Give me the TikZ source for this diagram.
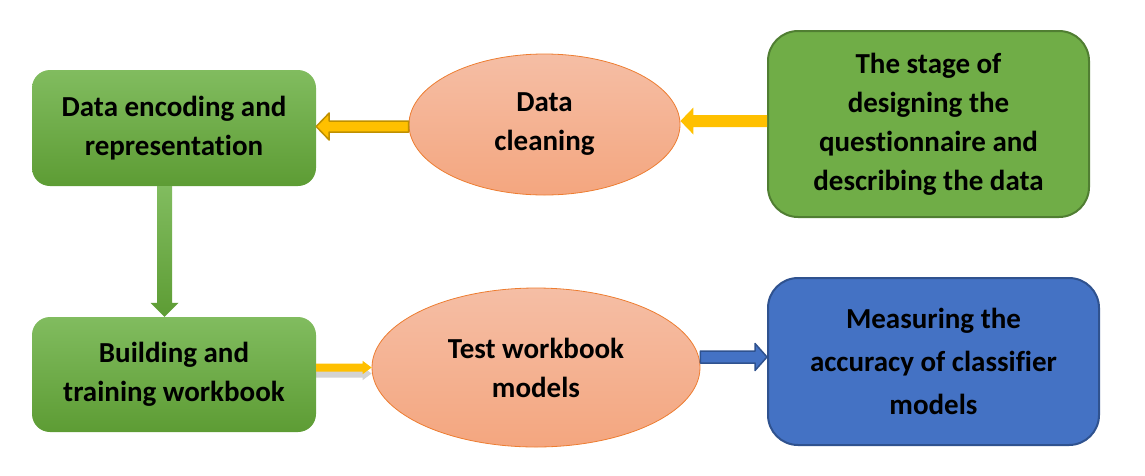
\documentclass[tikz,border=0pt]{standalone}
\usepackage{fontspec}
\setmainfont[Ligatures=NoCommon]{Carlito}
\usetikzlibrary{shapes.geometric,calc,shadows}
\definecolor{grnTop}{HTML}{81BC5F}
\definecolor{grnBot}{HTML}{5D9C34}
\definecolor{grnFill}{HTML}{70AD47}
\definecolor{grnLine}{HTML}{507E32}
\definecolor{salTop}{HTML}{F5BEA5}
\definecolor{salBot}{HTML}{F4A67F}
\definecolor{salLine}{HTML}{ED7D31}
\definecolor{bluFill}{HTML}{4472C4}
\definecolor{bluLine}{HTML}{2F528F}
\definecolor{gold}{HTML}{FFC000}
\definecolor{goldLine}{HTML}{BF9000}
% block arrow: style, tail, tip, half shaft, half head, head length
\newcommand{\blockarrow}[6]{%
  \path[#1] let \p1=(#2), \p2=(#3), \n1={veclen(\x2-\x1,\y2-\y1)},
    \n2={(\x2-\x1)/\n1}, \n3={(\y2-\y1)/\n1},
    \p3=({\x2-(\n2)*#6},{\y2-(\n3)*#6}) in
    ({\x1-(\n3)*#4},{\y1+(\n2)*#4}) -- ({\x3-(\n3)*#4},{\y3+(\n2)*#4})
    -- ({\x3-(\n3)*#5},{\y3+(\n2)*#5}) -- (\p2) -- ({\x3+(\n3)*#5},{\y3-(\n2)*#5})
    -- ({\x3+(\n3)*#4},{\y3-(\n2)*#4}) -- ({\x1+(\n3)*#4},{\y1-(\n2)*#4}) -- cycle;}
\tikzset{
  label/.style={font={\bfseries\fontsize{29}{39}\selectfont}, align=center, inner sep=0pt},
  greenbox/.style={label, rounded corners=18pt, minimum width=284pt, minimum height=116pt,
    top color=grnTop, bottom color=grnBot},
  stagebox/.style={label, rounded corners=30pt, draw=grnLine, line width=2pt, fill=grnFill},
  bluebox/.style={label, rounded corners=30pt, draw=bluLine, line width=2pt, fill=bluFill,
    font={\bfseries\fontsize{29}{43}\selectfont}},
  oval/.style={label, ellipse, top color=salTop, bottom color=salBot, draw=salLine, line width=0.8pt},
  yellowarrow/.style={fill=gold},
  goldarrow/.style={fill=gold, draw=goldLine, line width=1.5pt},
  greenarrow/.style={top color=grnTop, bottom color=grnBot},
  shadowarrow/.style={fill=gold, drop shadow={shadow xshift=0pt, shadow yshift=-6pt, opacity=0.35}},
  bluearrow/.style={fill=bluFill, draw=bluLine, line width=1.5pt}
}

\begin{document}
\begin{tikzpicture}[x=1pt,y=-1pt,line join=round]
    \useasboundingbox (0,0) rectangle (1145,475);

    % Stages
    \draw(174,128) node[greenbox] (enc) {Data encoding and\\representation};
    \draw(544.5,124.5) node[oval, minimum width=271pt, minimum height=141pt] (clean) {Data\\cleaning};
    \draw(928.5,124) node[stagebox, minimum width=321pt, minimum height=186pt] (stage) {The stage of\\designing the\\questionnaire and\\describing the data};
    \draw(174,374.5) node[greenbox, minimum height=115pt] (build) {Building and\\training workbook};
    \draw(536,367.5) node[oval, minimum width=328pt, minimum height=159pt] (test) {Test workbook\\models};
    \draw(933.5,361.5) node[bluebox, minimum width=331pt, minimum height=167pt] (meas) {Measuring the\\accuracy of classifier\\models};

    % Tails
    \coordinate (t1) at ([yshift=3pt]stage.west);
    \coordinate (t2) at ([yshift=-2pt]clean.west);
    \coordinate (t3) at ([xshift=-9.5pt]enc.south);
    \coordinate (t4) at (build.east |- test.west);
    \coordinate (t5) at ([yshift=10.5pt]test.east);

    % Arrows
    \foreach \sty/\src/\dst/\s/\h/\l in {yellowarrow/t1/clean.east |- t1/6/13.5/13,
        goldarrow/t2/enc.east |- t2/5.5/13.5/13,
        greenarrow/t3/build.north -| t3/7.5/14/14,
        shadowarrow/t4/test.west/4/6.7/9,
        bluearrow/t5/meas.west |- t5/6/13.5/12} {
            \blockarrow{\sty}{\src}{\dst}{\s}{\h}{\l}
        }
\end{tikzpicture}
\end{document}
